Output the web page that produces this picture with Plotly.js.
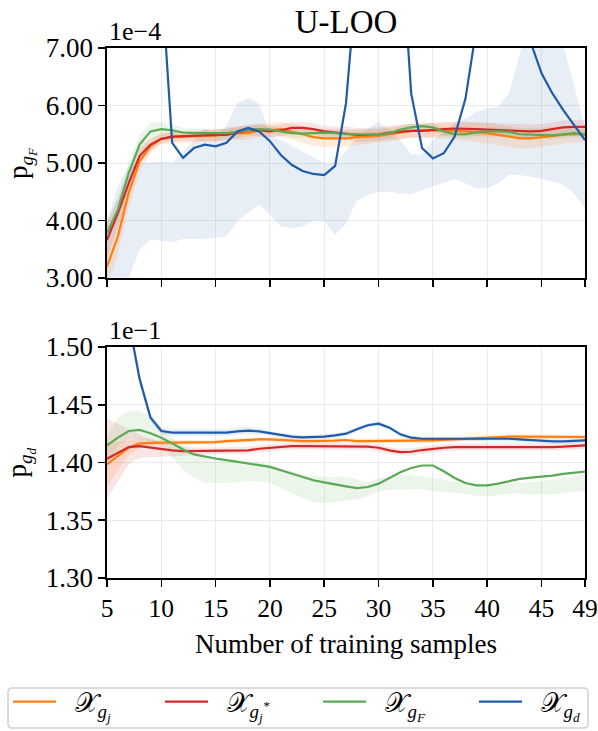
<!DOCTYPE html>
<html><head><meta charset="utf-8">
<script src="https://cdn.plot.ly/plotly-3.0.1.min.js"></script>
<style>html,body{margin:0;padding:0;background:#fff}#chart{width:598px;height:731px}</style>
</head><body><div id="chart"></div>
<script>
// Number of training samples
const samples = [5,6,7,8,9,10,11,12,13,14,15,16,17,18,19,20,21,22,23,24,25,26,27,28,29,30,31,32,33,34,35,36,37,38,39,40,41,42,43,44,45,46,47,48,49];

// Top panel: p_gF (values in units of 1e-4)
const topOrange = [3.20,3.72,4.48,5.03,5.29,5.42,5.45,5.46,5.47,5.47,5.47,5.52,5.52,5.52,5.57,5.57,5.59,5.55,5.50,5.45,5.43,5.43,5.43,5.45,5.46,5.47,5.50,5.53,5.56,5.57,5.57,5.56,5.56,5.55,5.54,5.52,5.49,5.46,5.43,5.43,5.45,5.48,5.49,5.50,5.49];
const topOrangeStd = [0.35,0.30,0.25,0.18,0.12,0.10,0.10,0.10,0.10,0.10,0.10,0.10,0.12,0.12,0.12,0.12,0.13,0.14,0.15,0.15,0.15,0.15,0.15,0.14,0.13,0.12,0.12,0.12,0.12,0.12,0.13,0.14,0.15,0.16,0.17,0.18,0.18,0.18,0.18,0.18,0.17,0.16,0.15,0.14,0.13];
const topRed = [3.66,4.13,4.65,5.12,5.32,5.42,5.46,5.47,5.47,5.48,5.49,5.49,5.53,5.57,5.57,5.55,5.57,5.61,5.61,5.59,5.55,5.53,5.52,5.49,5.49,5.50,5.53,5.55,5.56,5.56,5.58,5.59,5.60,5.60,5.59,5.58,5.57,5.57,5.55,5.55,5.56,5.59,5.62,5.63,5.63];
const topRedStd = [0.30,0.25,0.20,0.15,0.10,0.08,0.08,0.08,0.08,0.10,0.10,0.10,0.10,0.10,0.10,0.10,0.10,0.10,0.10,0.10,0.10,0.10,0.12,0.12,0.12,0.12,0.12,0.12,0.12,0.12,0.12,0.12,0.12,0.12,0.12,0.12,0.12,0.12,0.12,0.12,0.12,0.12,0.12,0.12,0.12];
const topGreen = [3.78,4.19,4.83,5.32,5.55,5.59,5.57,5.53,5.52,5.52,5.52,5.52,5.54,5.58,5.59,5.58,5.55,5.52,5.51,5.52,5.53,5.52,5.50,5.50,5.50,5.49,5.52,5.58,5.62,5.64,5.62,5.55,5.50,5.50,5.53,5.55,5.55,5.54,5.50,5.49,5.48,5.48,5.50,5.52,5.50];
const topGreenStd = [0.20,0.20,0.20,0.18,0.15,0.12,0.10,0.08,0.07,0.07,0.07,0.07,0.07,0.07,0.07,0.07,0.07,0.07,0.07,0.07,0.07,0.07,0.07,0.07,0.07,0.07,0.07,0.07,0.07,0.07,0.07,0.07,0.07,0.07,0.07,0.07,0.07,0.07,0.07,0.07,0.07,0.07,0.07,0.07,0.07];
const topBlue = [12.0,11.5,11.0,10.0,9.0,8.25,5.35,5.09,5.26,5.32,5.29,5.35,5.55,5.61,5.55,5.38,5.14,4.97,4.86,4.81,4.79,4.95,6.04,9.2,10.5,11.0,10.5,9.1,6.21,5.26,5.08,5.17,5.46,6.12,7.34,8.0,8.5,8.5,8.0,7.1,6.56,6.21,5.92,5.66,5.40];
const topBlueHi = [4.0,4.6,4.95,5.0,5.01,5.03,5.0,5.2,5.4,5.6,5.46,5.65,6.05,6.13,6.04,5.49,5.4,5.3,5.2,5.1,5.0,5.0,5.2,5.45,5.6,5.72,5.57,5.4,5.15,5.15,5.4,5.55,5.69,5.78,5.89,5.95,5.98,6.21,6.97,7.6,7.6,7.5,7.05,6.35,5.6];
const topBlueLo = [2.0,2.5,3.0,3.49,3.67,3.64,3.62,3.68,3.68,3.68,3.70,3.72,3.99,4.13,4.28,4.10,3.90,3.87,3.90,3.99,3.99,3.75,3.95,4.35,4.45,4.50,4.50,4.47,4.46,4.53,4.59,4.65,4.72,4.65,4.56,4.56,4.65,4.79,4.79,4.76,4.72,4.68,4.62,4.47,4.21];

// Bottom panel: p_gd (values in units of 1e-1)
const botOrange = [1.3983,1.4055,1.4128,1.4166,1.4172,1.4172,1.4172,1.4172,1.4172,1.4175,1.4177,1.4186,1.4192,1.4200,1.4200,1.4200,1.4195,1.4186,1.4186,1.4186,1.4186,1.4190,1.4195,1.4186,1.4186,1.4186,1.4186,1.4186,1.4186,1.4190,1.4192,1.4195,1.4200,1.4206,1.4209,1.4215,1.4221,1.4224,1.4224,1.4224,1.4221,1.4221,1.4221,1.4221,1.4221];
const botOrangeStd = [0.020,0.012,0.006,0.004,0.003,0.002,0.002,0.002,0.002,0.002,0.002,0.002,0.002,0.002,0.002,0.002,0.002,0.002,0.002,0.002,0.002,0.002,0.002,0.002,0.002,0.002,0.002,0.002,0.002,0.002,0.002,0.002,0.002,0.002,0.002,0.002,0.002,0.002,0.002,0.002,0.002,0.002,0.002,0.002,0.002];
const botRed = [1.4032,1.4084,1.4134,1.4142,1.4128,1.4113,1.4105,1.4099,1.4099,1.4099,1.4099,1.4099,1.4099,1.4105,1.4119,1.4128,1.4137,1.4142,1.4142,1.4142,1.4142,1.4142,1.4142,1.4142,1.4137,1.4128,1.4105,1.4090,1.4093,1.4108,1.4119,1.4128,1.4134,1.4134,1.4128,1.4128,1.4128,1.4128,1.4128,1.4128,1.4134,1.4134,1.4137,1.4142,1.4148];
const botRedStd = [0.035,0.025,0.015,0.010,0.008,0.006,0.005,0.004,0.003,0.003,0.003,0.003,0.003,0.003,0.003,0.003,0.003,0.003,0.003,0.003,0.003,0.003,0.003,0.003,0.003,0.003,0.003,0.003,0.003,0.003,0.003,0.003,0.003,0.003,0.003,0.003,0.003,0.003,0.003,0.003,0.003,0.003,0.003,0.003,0.003];
const botGreen = [1.4148,1.4215,1.4273,1.4282,1.4253,1.4215,1.4166,1.4113,1.4070,1.4050,1.4035,1.4020,1.4006,1.3991,1.3977,1.3962,1.3933,1.3904,1.3872,1.3846,1.3828,1.3808,1.3794,1.3779,1.3788,1.3817,1.3866,1.3916,1.3953,1.3974,1.3974,1.3924,1.3866,1.3823,1.3802,1.3802,1.3817,1.3837,1.3858,1.3869,1.3875,1.3887,1.3901,1.3910,1.3921];
const botGreenHi = [1.4230,1.4390,1.4448,1.4448,1.4390,1.4302,1.4215,1.4142,1.4084,1.4055,1.4041,1.4026,1.4020,1.4012,1.4003,1.3983,1.3953,1.3924,1.3895,1.3881,1.3875,1.3875,1.3881,1.3852,1.3828,1.3866,1.3881,1.3895,1.3895,1.3881,1.3866,1.3852,1.3837,1.3823,1.3808,1.3802,1.3802,1.3817,1.3823,1.3828,1.3837,1.3852,1.3866,1.3881,1.3895];
const botGreenLo = [1.3968,1.4142,1.4201,1.4201,1.4186,1.4142,1.4041,1.3939,1.3866,1.3828,1.3823,1.3823,1.3828,1.3837,1.3837,1.3823,1.3779,1.3735,1.3692,1.3657,1.3648,1.3657,1.3669,1.3683,1.3706,1.3750,1.3765,1.3765,1.3770,1.3770,1.3750,1.3741,1.3735,1.3730,1.3712,1.3706,1.3721,1.3730,1.3730,1.3721,1.3730,1.3721,1.3735,1.3750,1.3750];
const botBlue = [1.60,1.56,1.5226,1.4724,1.4390,1.4273,1.4259,1.4259,1.4259,1.4259,1.4259,1.4259,1.4270,1.4276,1.4270,1.4253,1.4235,1.4224,1.4218,1.4218,1.4224,1.4235,1.4250,1.4288,1.4323,1.4337,1.4302,1.4244,1.4215,1.4206,1.4206,1.4206,1.4206,1.4206,1.4206,1.4206,1.4209,1.4206,1.4200,1.4195,1.4186,1.4183,1.4183,1.4186,1.4192];
const botBlueStd = [0.010,0.008,0.006,0.005,0.004,0.003,0.003,0.003,0.003,0.003,0.003,0.003,0.003,0.003,0.003,0.002,0.002,0.002,0.002,0.002,0.002,0.002,0.002,0.002,0.002,0.002,0.002,0.002,0.002,0.002,0.002,0.002,0.002,0.002,0.002,0.002,0.002,0.002,0.002,0.002,0.002,0.002,0.002,0.002,0.002];

const tickX = [5,10,15,20,25,30,35,40,45,49];
const tickTop = [3,4,5,6,7];
const tickBot = [1.30,1.35,1.40,1.45,1.50];
const NB = '\u00a0\u00a0';
const seriesNames = [NB + '𝒳<sub><i>g<sub>j</sub></i></sub>', NB + '𝒳<sub><i>g<sub>j</sub><sup>*</sup></i></sub>', NB + '𝒳<sub><i>g<sub>F</sub></i></sub>', NB + '𝒳<sub><i>g<sub>d</sub></i></sub>'];
const yTitles = ['p<sub><i>g<sub>F</sub></i></sub>', 'p<sub><i>g<sub>d</sub></i></sub>'];
const colors = ['#ff7f0e', '#d62728', '#5aaa55', '#1f5ba8'];
const fills = ['rgba(255,127,14,0.15)', 'rgba(214,39,40,0.12)', 'rgba(90,170,85,0.12)', 'rgba(31,91,168,0.10)'];
const legendIds = ['legend', 'legend2', 'legend3', 'legend4'];
const legendLeftPx = [8, 160, 318, 474];

const FONT = 'Liberation Serif';
const traces = [];
function band(lo, hi, fill, xa, ya) {
  traces.push({x: samples, y: lo, xaxis: xa, yaxis: ya, mode: 'lines', line: {width: 0, color: fill}, showlegend: false, hoverinfo: 'skip'});
  traces.push({x: samples, y: hi, xaxis: xa, yaxis: ya, mode: 'lines', line: {width: 0, color: fill}, fill: 'tonexty', fillcolor: fill, showlegend: false, hoverinfo: 'skip'});
}
const sub = (a, b) => a.map((v, i) => v - b[i]);
const add = (a, b) => a.map((v, i) => v + b[i]);

band(topBlueLo, topBlueHi, fills[3], 'x', 'y');
band(sub(topOrange, topOrangeStd), add(topOrange, topOrangeStd), fills[0], 'x', 'y');
band(sub(topRed, topRedStd), add(topRed, topRedStd), fills[1], 'x', 'y');
band(sub(topGreen, topGreenStd), add(topGreen, topGreenStd), fills[2], 'x', 'y');
band(sub(botBlue, botBlueStd), add(botBlue, botBlueStd), fills[3], 'x2', 'y2');
band(sub(botOrange, botOrangeStd), add(botOrange, botOrangeStd), fills[0], 'x2', 'y2');
band(sub(botRed, botRedStd), add(botRed, botRedStd), fills[1], 'x2', 'y2');
band(botGreenLo, botGreenHi, fills[2], 'x2', 'y2');

const topSeries = [topOrange, topRed, topGreen, topBlue];
const botSeries = [botOrange, botRed, botGreen, botBlue];
for (let i = 0; i < 4; i++) {
  traces.push({x: samples, y: topSeries[i], xaxis: 'x', yaxis: 'y', mode: 'lines', name: seriesNames[i], line: {color: colors[i], width: 2.2}, showlegend: true, legend: legendIds[i]});
}
for (let i = 0; i < 4; i++) {
  traces.push({x: samples, y: botSeries[i], xaxis: 'x2', yaxis: 'y2', mode: 'lines', name: seriesNames[i], line: {color: colors[i], width: 2.2}, showlegend: false});
}

const axBase = (fs) => ({showline: true, linecolor: '#000', linewidth: 1.6, mirror: true, ticks: 'outside', ticklen: 7, tickwidth: 1.6, tickcolor: '#000',
  showgrid: true, gridcolor: '#ebebeb', gridwidth: 1, zeroline: false,
  tickfont: {family: FONT, size: fs, color: '#000'}});

// legend frame (paper coordinates of the outer box)
const bx0 = -0.2071, bx1 = 1.0063, byT = -0.2075, byB = -0.2830, rx = 0.0084, ry = 0.0075;
const framePath = `M${bx0+rx},${byT} L${bx1-rx},${byT} Q${bx1},${byT} ${bx1},${byT-ry} L${bx1},${byB+ry} Q${bx1},${byB} ${bx1-rx},${byB} L${bx0+rx},${byB} Q${bx0},${byB} ${bx0},${byB+ry} L${bx0},${byT-ry} Q${bx0},${byT} ${bx0+rx},${byT} Z`;

const layout = {
  width: 598, height: 731, paper_bgcolor: '#fff', plot_bgcolor: '#fff',
  margin: {l: 107, r: 13, t: 48, b: 153, autoexpand: false},
  font: {family: FONT, color: '#000'},
  title: {text: 'U-LOO', font: {family: FONT, size: 33, color: '#000'}, x: 0.5, xref: 'paper', y: 0.97, yref: 'container', yanchor: 'middle'},
  xaxis: Object.assign(axBase(25.5), {domain: [0, 1], anchor: 'y', range: [5, 49], tickvals: tickX, showticklabels: false}),
  yaxis: Object.assign(axBase(27), {domain: [0.566, 1], anchor: 'x', range: [3, 7], tickvals: tickTop, tickformat: '.2f', ticksuffix: '\u00a0'}),
  xaxis2: Object.assign(axBase(25.5), {domain: [0, 1], anchor: 'y2', range: [5, 49], tickvals: tickX,
    title: {text: 'Number of training samples', standoff: 12, font: {family: FONT, size: 27, color: '#000'}}}),
  yaxis2: Object.assign(axBase(27), {domain: [0, 0.4358], anchor: 'x2', range: [1.30, 1.50], tickvals: tickBot, tickformat: '.2f', ticksuffix: '\u00a0'}),
  showlegend: true,
  shapes: [{type: 'path', xref: 'paper', yref: 'paper', path: framePath, line: {color: '#d0d0d0', width: 1.5}, fillcolor: 'rgba(255,255,255,0.8)', layer: 'below'}],
  annotations: [
    {text: '1e\u22124', xref: 'paper', yref: 'y domain', x: 0, y: 1, xanchor: 'left', yanchor: 'bottom', showarrow: false, font: {family: FONT, size: 26, color: '#000'}},
    {text: '1e\u22121', xref: 'paper', yref: 'y2 domain', x: 0, y: 1, xanchor: 'left', yanchor: 'bottom', showarrow: false, font: {family: FONT, size: 26, color: '#000'}},
    {text: yTitles[0], xref: 'paper', yref: 'y domain', x: -0.18, y: 0.5, xanchor: 'center', yanchor: 'middle', textangle: -90, showarrow: false, font: {family: FONT, size: 27, color: '#000'}},
    {text: yTitles[1], xref: 'paper', yref: 'y2 domain', x: -0.18, y: 0.5, xanchor: 'center', yanchor: 'middle', textangle: -90, showarrow: false, font: {family: FONT, size: 27, color: '#000'}}
  ]
};
legendIds.forEach((id, i) => {
  layout[id] = {xref: 'container', yref: 'container', x: legendLeftPx[i] / 598, xanchor: 'left', y: 1 - 702 / 731, yanchor: 'middle',
    bgcolor: 'rgba(0,0,0,0)', borderwidth: 0, itemwidth: 43, font: {family: FONT, size: 27, color: '#000'}};
});
Plotly.newPlot('chart', traces, layout, {staticPlot: true, displayModeBar: false});
</script></body></html>
